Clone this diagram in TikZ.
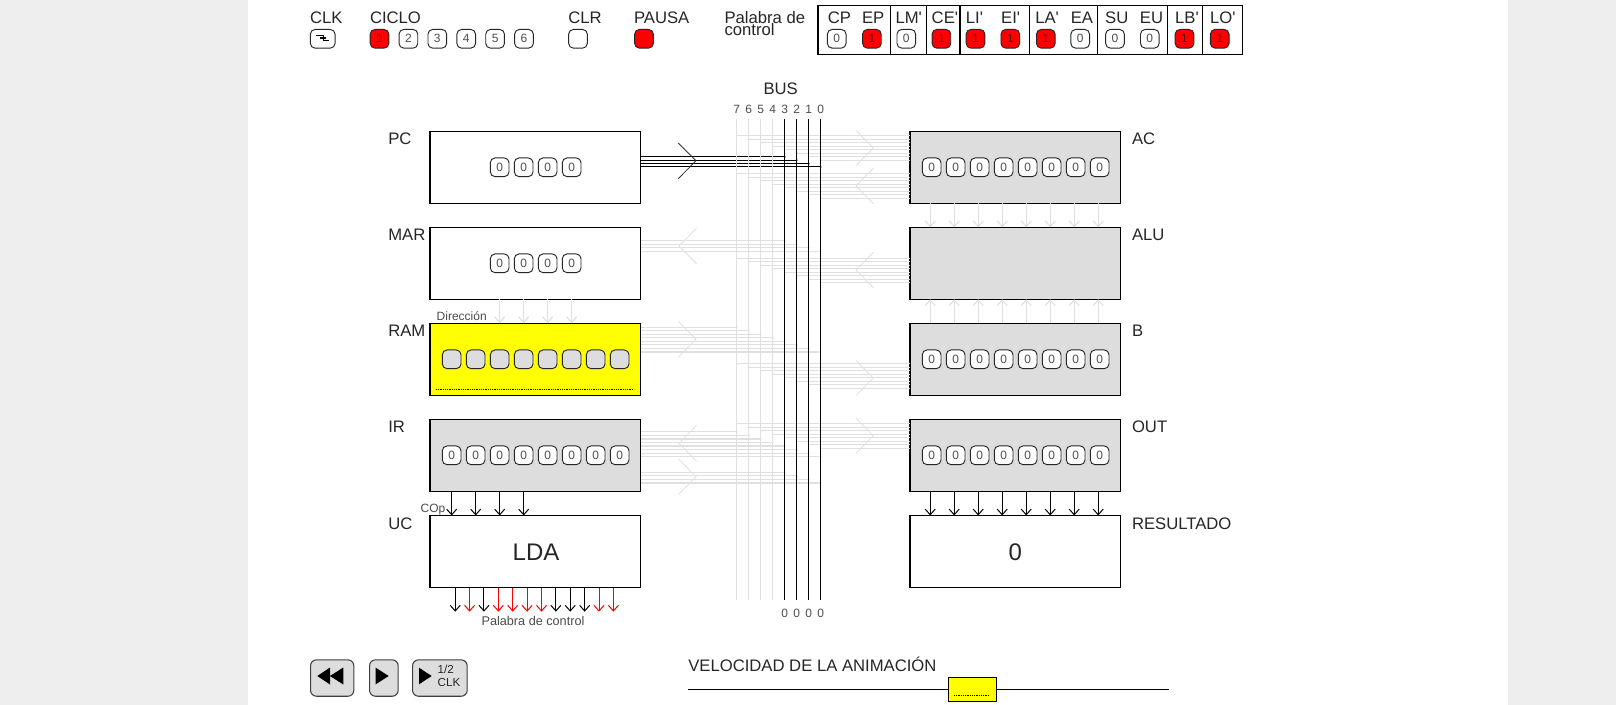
\documentclass[tikz,border=0pt]{standalone}
\usepackage{fontspec}
\setmainfont{Liberation Sans}
\usetikzlibrary{arrows.meta}
\definecolor{boxgray}{HTML}{DDDDDD}
\definecolor{wiregray}{HTML}{E0E0E0}
\definecolor{pagegray}{HTML}{EEEEEE}
\definecolor{regyellow}{RGB}{255,255,0}
\definecolor{ledred}{RGB}{255,0,0}
\tikzset{
  >={Straight Barb[length=4.2pt,width=7.5pt]},
  lab/.style={inner sep=0pt,outer sep=0pt,text=black!85,font=\fontsize{12.5}{14}\selectfont},
  smalltxt/.style={lab,text=black!70,font=\fontsize{9}{11}\selectfont},
  reg/.style={draw,anchor=north west,minimum width=157.9pt,minimum height=54pt,inner sep=0pt,outer sep=0pt,line width=.85pt},
  led/.style={draw=black!85,fill=white,rounded corners=3.5pt,minimum size=14pt,inner sep=0pt,line width=.7pt,text=black!70,font=\fontsize{9}{11}\selectfont},
  ledon/.style={led,fill=ledred,text=red!35!black},
  btn/.style={draw=black!75,fill=boxgray,rounded corners=4.5pt,inner sep=0pt,line width=.8pt,anchor=north west},
  wire/.style={draw=wiregray,line width=.85pt},
  head/.style={draw=wiregray,line width=.6pt},
  busline/.style={line width=.9pt},
}
\begin{document}
\begin{tikzpicture}[x=0.75pt,y=-0.75pt]
\useasboundingbox (0,0) rectangle (1616,705);
\fill[pagegray] (0,0) rectangle (1616,705);
\fill[white] (248,0) rectangle (1508,705);

% top row
\node[lab,anchor=base west] (clklab) at (310,23.3) {CLK};
\node[led,minimum width=18.5pt] (clk) at (322.7,38.8) {};
\draw[line width=.85pt] (316,35.7) -- (323.3,35.7) -- (323.3,40.7) -- (329.3,40.7) (320,38) -- (326,38);
\node[lab,anchor=base west] (ciclolab) at (370,23.3) {CICLO};
\foreach \i in {1,...,6} {
  \ifnum\i=1 \def\ledstyle{ledon}\else\def\ledstyle{led}\fi
  \node[\ledstyle] (ciclo\i) at ({379.5+28.9*(\i-1)},38.8) {\i};
}
\node[lab,anchor=base west] (clrlab) at (568.3,23.3) {CLR};
\node[led] (clr) at (578,38.8) {};
\node[lab,anchor=base west] (pausalab) at (634,23.3) {PAUSA};
\node[ledon] (pausa) at (644,38.8) {};
\node[lab,anchor=west,align=left,font=\fontsize{12.5}{8.6}\selectfont] (pwlab) at (724.5,23.5) {Palabra de\\[-1pt]control};

% control word
\node[draw,anchor=north west,minimum width=318.2pt,minimum height=36.7pt,inner sep=0pt,outer sep=0pt,line width=.85pt] (word) at (818,5.5) {};
\foreach \x in {890.5,926.3,960,1029.6,1097.8,1167.7,1202.1}
  \draw[line width=.85pt] (\x,0 |- word.north) -- (\x,0 |- word.south);
\foreach \name/\sig/\lx/\ledx/\v in {CP/CP/839.5/836.7/0,EP/EP/873.2/871.9/1,LM/LM\textquotesingle/908.7/906.3/0,CE/CE\textquotesingle/944.9/941.4/1,LI/LI\textquotesingle/974.4/975.5/1,EI/EI\textquotesingle/1010.6/1010.3/1,LA/LA\textquotesingle/1047.1/1045.8/1,EA/EA/1081.9/1080.2/0,SU/SU/1116.7/1115/0,EU/EU/1151.5/1149.8/0,LB/LB\textquotesingle/1187/1184.5/1,LO/LO\textquotesingle/1222.8/1219.7/1} {
  \node[lab,anchor=base] (lab\name) at (\lx,23.4) {\sig};
  \ifnum\v=1 \def\ledstyle{ledon}\else\def\ledstyle{led}\fi
  \node[\ledstyle] (led\name) at (\ledx,38.8) {\v};
}

% registers
\node[reg] (PC) at (430,131.3) {};
\node[reg] (MAR) at (430,227.3) {};
\node[reg,fill=regyellow] (RAM) at (430,323.3) {};
\node[reg,fill=boxgray] (IR) at (430,419.3) {};
\node[reg] (UC) at (430,515.5) {};
\node[reg,fill=boxgray] (AC) at (910,131.3) {};
\node[reg,fill=boxgray] (ALU) at (910,227.3) {};
\node[reg,fill=boxgray] (B) at (910,323.3) {};
\node[reg,fill=boxgray] (OUT) at (910,419.3) {};
\node[reg] (RES) at (910,515.5) {};
\foreach \reg/\sig/\y in {PC/PC/131.3,MAR/MAR/227.3,RAM/RAM/323.3,IR/IR/419.3,UC/UC/515.5}
  \node[lab,anchor=base west] (lab\reg) at (388.3,\y+13.5) {\sig};
\foreach \reg/\sig/\y in {AC/AC/131.3,ALU/ALU/227.3,B/B/323.3,OUT/OUT/419.3,RES/RESULTADO/515.5}
  \node[lab,anchor=base west] (lab\reg) at (1132,\y+13.5) {\sig};
\node[lab,anchor=base,font=\fontsize{18}{20}\selectfont] (instr) at (536,560.7) {LDA};
\node[lab,anchor=base,font=\fontsize{18}{20}\selectfont] (result) at (1015.3,560.7) {0};
\node[smalltxt,anchor=base west] (dirlab) at (436.7,321) {Dirección};
\node[smalltxt,anchor=base west] (coplab) at (420.7,512.3) {COp};
\node[smalltxt,anchor=base,font=\fontsize{9.5}{11}\selectfont] (wordlab) at (533,625.3) {Palabra de control};
\draw[line width=.6pt,dash pattern=on .75pt off .6pt] (436,389) -- (634,389);

% register leds
\foreach \reg in {PC,MAR}
  \foreach \i in {1,...,4}
    \node[led,xshift={(\i-2.5)*18pt+.3pt}] (\reg led\i) at (\reg) {0};
\foreach \reg in {IR,AC,B,OUT}
  \foreach \i in {1,...,8}
    \node[led,xshift={(\i-4.5)*18pt+.3pt}] (\reg led\i) at (\reg) {0};
\foreach \i in {1,...,8}
  \node[led,fill=boxgray,xshift={(\i-4.5)*18pt+.3pt}] (RAMled\i) at (RAM) {};

% bus
\node[lab,anchor=base] (buslab) at (780.7,95) {BUS};
\foreach \k in {0,...,7} {
  \coordinate (t\k) at ({820.7-12*\k},119.3);
  \coordinate (b\k) at ({820.7-12*\k},600);
  \node[smalltxt,anchor=base] (num\k) at ({820.7-12*\k},113.3) {\k};
}
\foreach \k in {0,...,3}
  \node[smalltxt,anchor=base] (val\k) at ({820.7-12*\k},617.3) {0};

% active wires from PC
\foreach \k in {0,...,3} {
  \pgfmathsetmacro\wy{167-3.4*\k}
  \draw[line width=.75pt] (PC.east |- 0,\wy) -- (b\k |- 0,\wy);
  \fill (b\k |- 0,\wy) circle (1);
}
\draw[line width=.6pt,draw=black!80] (678.3,143) -- (696,160.7) -- (678.3,178.7);

% idle bus lines and wires
\foreach \k in {4,...,7}
  \draw[wire] (t\k) -- (b\k);
\foreach \reg/\ylow/\n in {MAR/251.3/3,RAM/352/7,IR/456.7/7,IR/483/3}
  \foreach \k in {0,...,\n} {
    \pgfmathsetmacro\wy{\ylow-3.55*\k}
    \draw[wire] (\reg.east |- 0,\wy) -- (b\k |- 0,\wy);
    \fill[wiregray] (b\k |- 0,\wy) circle (1.2);
  }
\foreach \reg/\ylow in {AC/160.3,AC/198.3,ALU/282.7,B/388.3,OUT/448.3}
  \foreach \k in {0,...,7} {
    \pgfmathsetmacro\wy{\ylow-3.5*\k}
    \draw[wire] (\reg.west |- 0,\wy) -- (b\k |- 0,\wy);
    \fill[wiregray] (b\k |- 0,\wy) circle (1.2);
  }
\foreach \tx/\ty/\d in {679/246/17.5,696/339.3/-17.5,679/443.3/17.5,696/476.7/-17.5,873.3/148/-17.5,856/186/17.5,856/270/17.5,873.3/378/-17.5,873.3/435.7/-17.5}
  \draw[head] (\tx+\d,\ty-17.8) -- (\tx,\ty) -- (\tx+\d,\ty+17.8);

% active bus lines
\foreach \k in {0,...,3}
  \draw[busline] (t\k) -- (b\k);

% arrows between registers
\foreach \i in {1,...,4}
  \draw[->,wire] (MARled\i |- MAR.south) -- (MARled\i |- RAM.north);
\foreach \i in {1,...,8} {
  \coordinate (col\i) at ({930.2+24*(\i-1)},0);
  \draw[->,wire] (col\i |- AC.south) -- (col\i |- ALU.north);
  \draw[->,wire] (col\i |- B.north) -- (col\i |- ALU.south);
  \draw[->,line width=.75pt] (col\i |- OUT.south) -- (col\i |- RES.north);
}
\foreach \i in {1,...,4}
  \draw[->,line width=.75pt] (IRled\i |- IR.south) -- (IRled\i |- UC.north);
\foreach \i/\c in {0/black,1/red,2/black,3/red,4/red,5/red,6/red,7/black,8/black,9/black,10/red,11/red} {
  \coordinate (cw\i) at ({455.2+14.38*\i},611.7);
  \draw[->,line width=.75pt,draw=\c] (UC.south -| cw\i) -- (cw\i);
}

% buttons
\node[btn,minimum width=32.5pt,minimum height=27.3pt] (rew) at (310,659.3) {};
\fill (317.3,676) -- (330,667.5) -- (330,684.5) -- cycle (330,676) -- (343.3,667.5) -- (343.3,684.5) -- cycle;
\node[btn,minimum width=21.5pt,minimum height=27.3pt] (play) at (369,659.3) {};
\fill (375.7,667.7) -- (388.7,676) -- (375.7,684.3) -- cycle;
\node[btn,minimum width=41pt,minimum height=27.3pt] (half) at (412,659.3) {};
\fill (419,667.7) -- (431.7,676) -- (419,684.3) -- cycle;
\node[lab,anchor=west,align=left,font=\fontsize{8.7}{9.3}\selectfont] (halflab) at (437.7,676) {1/2\\CLK};

% slider
\node[lab,anchor=base west] (speedlab) at (688.3,671) {VELOCIDAD DE LA ANIMACIÓN};
\coordinate (sl) at (688,689.3);
\coordinate (sr) at (1169,689.3);
\draw[line width=.85pt] (sl) -- (sr);
\node[draw,fill=regyellow,anchor=north west,minimum width=36pt,minimum height=18pt,inner sep=0pt,line width=.85pt] (thumb) at (948,677) {};
\draw[line width=.6pt,dash pattern=on .75pt off .6pt] (954,695.2) -- (990,695.2);
\end{tikzpicture}
\end{document}
